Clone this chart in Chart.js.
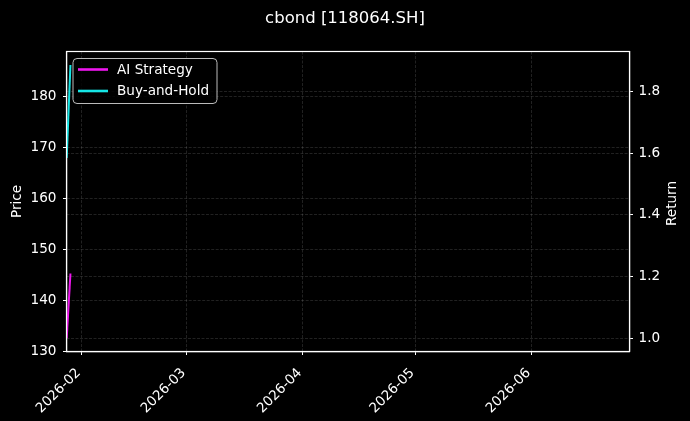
<!DOCTYPE html>
<html>
<head>
<meta charset="utf-8">
<script src="https://cdn.jsdelivr.net/npm/chart.js@4.4.1/dist/chart.umd.min.js"></script>
<style>
  html, body { margin: 0; padding: 0; background: #000; }
  #wrap { width: 690px; height: 421px; }
</style>
</head>
<body>
<div id="wrap"><canvas id="chart" width="690" height="421"></canvas></div>
<script>
// Data
const dates = ['2026-01-28', '2026-01-29'];
const aiReturn = [1.00, 1.21];
const holdReturn = [1.585, 1.886];

// Month ticks on the date axis
const monthStarts = ['2026-02-01', '2026-03-01', '2026-04-01', '2026-05-01', '2026-06-01'];
const monthLabels = ['2026-02', '2026-03', '2026-04', '2026-05', '2026-06'];

// Axis ranges
const priceRange = [130, 188.8];
const returnRange = [0.957, 1.93];
const dateRange = ['2026-01-28', '2026-06-27'];

const FONT = 'DejaVu Sans';
const DAY = 86400000;
const dayNum = s => (Date.parse(s) - Date.parse('2026-01-01')) / DAY;
const monthDays = monthStarts.map(dayNum);

const toPoints = vals => vals.map((v, i) => ({ x: dayNum(dates[i]), y: v }));

// black page + top spine + legend box inside the plot, like matplotlib
const framePlugin = {
    id: 'frame',
    beforeDraw(chart) {
        const ctx = chart.ctx;
        ctx.save();
        ctx.fillStyle = '#000';
        ctx.fillRect(0, 0, chart.width, chart.height);
        ctx.restore();
    },
    afterDatasetsDraw(chart) {
        const { ctx, chartArea: a } = chart;
        ctx.save();
        ctx.strokeStyle = '#fff';
        ctx.lineWidth = 1.2;
        ctx.strokeRect(a.left, a.top, a.right - a.left, a.bottom - a.top);

        // legend
        const x0 = a.left + 6.5, y0 = a.top + 7, w = 144, h = 45;
        ctx.beginPath();
        ctx.roundRect(x0, y0, w, h, 4);
        ctx.fillStyle = 'rgba(0,0,0,0.85)';
        ctx.fill();
        ctx.strokeStyle = '#bbb';
        ctx.lineWidth = 1;
        ctx.stroke();
        ctx.font = '13.6px "' + FONT + '"';
        ctx.textBaseline = 'middle';
        chart.data.datasets.forEach((ds, i) => {
            const y = y0 + 11 + i * 21.5;
            ctx.beginPath();
            ctx.moveTo(x0 + 5, y);
            ctx.lineTo(x0 + 35, y);
            ctx.strokeStyle = ds.borderColor;
            ctx.lineWidth = 2.6;
            ctx.stroke();
            ctx.fillStyle = '#fff';
            ctx.fillText(ds.label, x0 + 44, y + 0.5);
        });

        // right axis title, reading bottom to top
        ctx.translate(672, (a.top + a.bottom) / 2 + 2);
        ctx.rotate(-Math.PI / 2);
        ctx.textAlign = 'center';
        ctx.fillStyle = '#fff';
        ctx.fillText('Return', 0, 0);
        ctx.restore();
    }
};

const tickFont = { family: FONT, size: 13.6 };
const gridStyle = {
    color: 'rgba(255,255,255,0.22)',
    lineWidth: 0.6,
    tickColor: '#fff',
    tickLength: 3.5,
    tickWidth: 1
};
const borderStyle = { color: '#fff', width: 1.2, dash: [3, 1.5] };

const ctx = document.getElementById('chart').getContext('2d');
new Chart(ctx, {
    type: 'line',
    data: {
        datasets: [{
            label: 'AI Strategy',
            data: toPoints(aiReturn),
            borderColor: '#ee16ee',
            borderWidth: 2,
            pointRadius: 0,
            yAxisID: 'y1'
        }, {
            label: 'Buy-and-Hold',
            data: toPoints(holdReturn),
            borderColor: '#16e6e6',
            borderWidth: 2,
            pointRadius: 0,
            yAxisID: 'y1'
        }]
    },
    options: {
        responsive: false,
        animation: false,
        events: [],
        layout: { padding: 0 },
        plugins: {
            legend: { display: false },
            tooltip: { enabled: false },
            title: {
                display: true,
                text: 'cbond [118064.SH]',
                color: '#fff',
                font: { family: FONT, size: 16.5, weight: 'normal' },
                padding: { top: 9, bottom: 22.7 }
            }
        },
        scales: {
            x: {
                type: 'linear',
                min: dayNum(dateRange[0]) - 0.05,
                max: dayNum(dateRange[1]) + 0.1,
                afterBuildTicks: s => { s.ticks = monthDays.map(v => ({ value: v })); },
                afterFit: s => { s.height = 69.5; },
                ticks: {
                    color: '#fff',
                    font: tickFont,
                    minRotation: 45,
                    maxRotation: 45,
                    padding: 10,
                    labelOffset: -3,
                    autoSkip: false,
                    callback: v => monthLabels[monthDays.indexOf(v)]
                },
                grid: gridStyle,
                border: borderStyle
            },
            y: {
                position: 'left',
                min: priceRange[0],
                max: priceRange[1],
                afterFit: s => { s.width = 66.5; },
                ticks: { stepSize: 10, includeBounds: false, color: '#fff', font: tickFont, padding: 6.5 },
                title: {
                    display: true,
                    text: 'Price',
                    color: '#fff',
                    font: tickFont,
                    padding: { top: 9.5, bottom: 0 }
                },
                grid: gridStyle,
                border: borderStyle
            },
            y1: {
                position: 'right',
                min: returnRange[0],
                max: returnRange[1],
                afterFit: s => { s.width = 60.5; },
                ticks: {
                    stepSize: 0.2,
                    includeBounds: false,
                    color: '#fff',
                    font: tickFont,
                    padding: 5.5,
                    callback: v => v.toFixed(1)
                },
                grid: gridStyle,
                border: borderStyle
            }
        }
    },
    plugins: [framePlugin]
});
</script>
</body>
</html>
